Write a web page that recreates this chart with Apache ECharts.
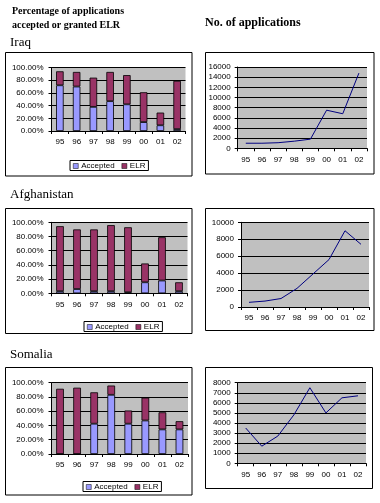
<!DOCTYPE html>
<html>
<head>
<meta charset="utf-8">
<script src="https://cdn.jsdelivr.net/npm/echarts@6/dist/echarts.min.js"></script>
<style>
html,body{margin:0;padding:0;background:#fff;}
#c{width:380px;height:503px;}
</style>
</head>
<body>
<div id="c"></div>
<script>
// ---- data ----
var years = ['95','96','97','98','99','00','01','02'];
var seriesNames = ['Accepted','ELR'];
var iraqAccepted = [72, 70, 38, 47, 42, 14, 9, 3];
var iraqELR = [22, 23, 46, 46, 46, 47, 20, 76];
var iraqApps = [1000, 1000, 1100, 1400, 1800, 7500, 6800, 14800];
var afghanAccepted = [3, 6, 3, 3, 1.5, 15.5, 18, 3];
var afghanELR = [91.5, 84, 87, 93, 91.5, 26.5, 61, 12.5];
var afghanApps = [550, 700, 1000, 2200, 3900, 5600, 9000, 7400];
var somaliaAccepted = [0, 0, 42.5, 83, 42.5, 47, 34.5, 34.5];
var somaliaELR = [91.5, 93, 44, 13, 18.5, 32, 24, 11.5];
var somaliaApps = [3500, 1700, 2700, 4800, 7500, 5000, 6500, 6700];
var countries = ['Iraq', 'Afghanistan', 'Somalia'];
var titleLeft = ['Percentage of applications', 'accepted or granted ELR'];
var titleRight = 'No. of applications';

// ---- layout ----
var SANS = '"Liberation Sans", Arial, sans-serif';
var SERIF = '"Liberation Serif", "Times New Roman", serif';
var grids = [
  {left: 51.5, top: 67.5, width: 134, height: 63.5},
  {left: 237.7, top: 67, width: 129.3, height: 81.3},
  {left: 51.5, top: 222.3, width: 136, height: 71},
  {left: 241, top: 222.3, width: 128, height: 84.7},
  {left: 51.5, top: 382.7, width: 136.5, height: 71.3},
  {left: 237.7, top: 382.7, width: 128.3, height: 80.6}
];
var lineMax = [16000, 10000, 8000];
var lineInt = [2000, 2000, 1000];
var accSets = [iraqAccepted, afghanAccepted, somaliaAccepted];
var elrSets = [iraqELR, afghanELR, somaliaELR];
var appSets = [iraqApps, afghanApps, somaliaApps];

var option = {
  animation: false,
  backgroundColor: '#fff',
  grid: [], xAxis: [], yAxis: [], series: [], legend: [], graphic: []
};

grids.forEach(function (g) {
  option.grid.push({
    left: g.left, top: g.top, width: g.width, height: g.height,
    show: true, backgroundColor: '#C0C0C0', borderWidth: 0,
    containLabel: false, outerBoundsMode: 'none'
  });
});

function xAx(i) {
  return {
    type: 'category', gridIndex: i, data: years, boundaryGap: true,
    axisLine: {lineStyle: {color: '#000', width: 1}},
    axisTick: {show: true, length: 3, lineStyle: {color: '#000'}},
    axisLabel: {color: '#000', fontSize: 8, fontFamily: SANS, margin: 7, interval: 0},
    splitLine: {show: false}
  };
}
for (var k = 0; k < 3; k++) {
  var bi = k * 2, li = k * 2 + 1;
  option.xAxis.push(xAx(bi));
  option.xAxis.push(xAx(li));
  option.yAxis.push({
    type: 'value', gridIndex: bi, min: 0, max: 100, interval: 20,
    axisLine: {show: true, lineStyle: {color: '#000'}},
    axisTick: {show: true, length: 3, lineStyle: {color: '#000'}},
    axisLabel: {color: '#000', fontSize: 8, fontFamily: SANS, margin: 8,
      formatter: function (v) { return v.toFixed(2) + '%'; }},
    splitLine: {show: true, lineStyle: {color: '#000', width: 1}}
  });
  option.yAxis.push({
    type: 'value', gridIndex: li, min: 0, max: lineMax[k], interval: lineInt[k],
    axisLine: {show: true, lineStyle: {color: '#000'}},
    axisTick: {show: true, length: 3, lineStyle: {color: '#000'}},
    axisLabel: {color: '#000', fontSize: 8, fontFamily: SANS, margin: 7,
      formatter: function (v) { return String(v); }},
    splitLine: {show: true, lineStyle: {color: '#000', width: 1}}
  });
  option.series.push({
    name: seriesNames[0], type: 'bar', xAxisIndex: bi, yAxisIndex: bi, stack: 's' + k,
    data: accSets[k], barWidth: '45%',
    itemStyle: {color: '#9999FF', borderColor: '#000', borderWidth: 0.8}
  });
  option.series.push({
    name: seriesNames[1], type: 'bar', xAxisIndex: bi, yAxisIndex: bi, stack: 's' + k,
    data: elrSets[k], barWidth: '45%',
    itemStyle: {color: '#993366', borderColor: '#000', borderWidth: 0.8}
  });
  option.series.push({
    name: 'apps' + k, type: 'line', xAxisIndex: li, yAxisIndex: li,
    data: appSets[k], symbol: 'none', smooth: false,
    lineStyle: {color: '#000080', width: 1}, itemStyle: {color: '#000080'}
  });
}

var legendPos = [
  {left: 70, top: 160.5},
  {left: 84, top: 321.5},
  {left: 83, top: 481.5}
];
legendPos.forEach(function (p) {
  option.legend.push({
    data: seriesNames, left: p.left, top: p.top, orient: 'horizontal',
    icon: 'rect', itemWidth: 5, itemHeight: 5, itemGap: 7,
    padding: [1, 3, 0, 3], borderColor: '#000', borderWidth: 1,
    backgroundColor: '#fff', selectedMode: false,
    itemStyle: {borderColor: '#000', borderWidth: 0.5},
    textStyle: {color: '#000', fontSize: 8, fontFamily: SANS, lineHeight: 9, padding: [0, 0, 0, -2]}
  });
});

// frames
var frames = [
  {x: 5.5, y: 52.5, w: 186.5, h: 123.5},
  {x: 205.5, y: 52.5, w: 168.5, h: 121.5},
  {x: 5.5, y: 208.5, w: 186.5, h: 125},
  {x: 205.5, y: 208.5, w: 168.5, h: 122},
  {x: 5.5, y: 367.5, w: 186.5, h: 127.5},
  {x: 205.5, y: 367.5, w: 167, h: 121}
];
frames.forEach(function (f) {
  option.graphic.push({
    type: 'rect', shape: {x: f.x, y: f.y, width: f.w, height: f.h},
    style: {fill: 'none', stroke: '#000', lineWidth: 1}, z: 100
  });
});

function txt(t, x, y, size, weight, family) {
  option.graphic.push({
    type: 'text', x: x, y: y,
    style: {text: t, fontSize: size, fontWeight: weight, fontFamily: family,
      fill: '#000', verticalAlign: 'middle', align: 'left'}
  });
}
txt(titleLeft[0], 12, 11, 10, 'bold', SERIF);
txt(titleLeft[1], 12, 25, 10, 'bold', SERIF);
txt(titleRight, 205, 23, 12, 'bold', SERIF);
txt(countries[0], 10, 43, 13, 'normal', SERIF);
txt(countries[1], 10, 195, 13, 'normal', SERIF);
txt(countries[2], 10, 355, 13, 'normal', SERIF);

var chart = echarts.init(document.getElementById('c'), null, {renderer: 'canvas', width: 380, height: 503});
chart.setOption(option);
</script>
</body>
</html>
